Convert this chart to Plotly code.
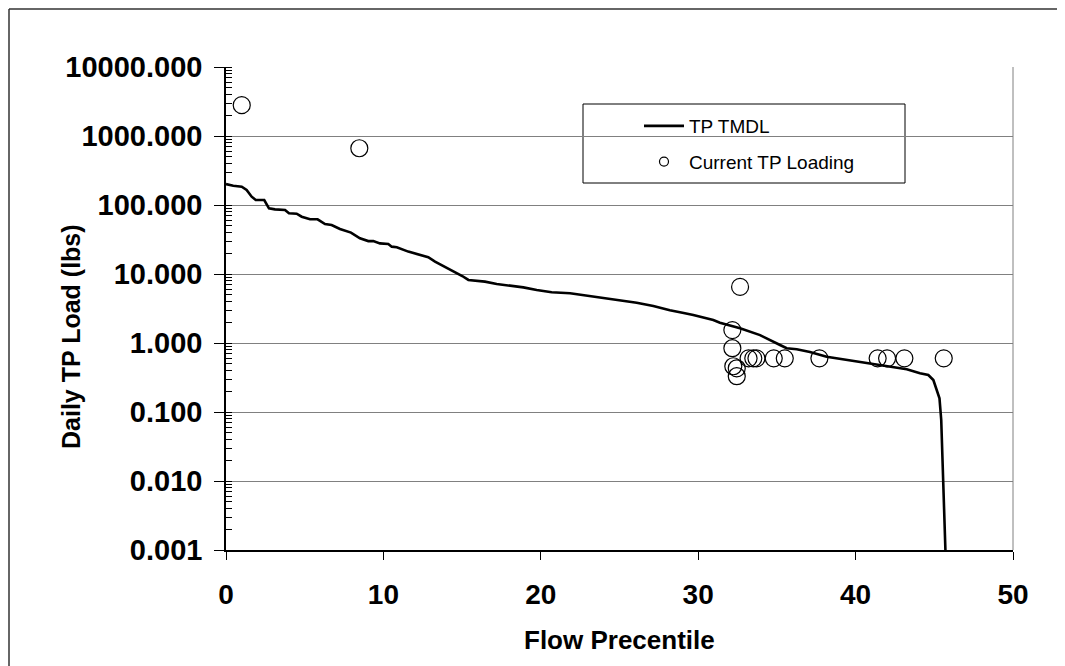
import plotly.graph_objects as go

# ---- data ----
tmdl_x = [0.0, 0.46, 1.0, 1.31, 1.63, 1.89, 2.43, 2.58, 2.73, 3.11, 3.75, 4.0, 4.49, 4.81,
          5.34, 5.82, 6.29, 6.71, 7.24, 7.94, 8.51, 9.04, 9.36, 9.78, 10.31, 10.53, 10.85,
          11.58, 12.43, 12.85, 13.28, 13.91, 14.55, 15.01, 15.4, 16.03, 16.45, 17.2, 18.25,
          18.89, 19.74, 20.69, 21.86, 22.92, 23.97, 25.03, 26.09, 27.15, 28.2, 29.0, 29.69,
          30.96, 31.38, 32.66, 33.93, 35.2, 35.62, 36.26, 37.1, 38.16, 39.43, 40.7, 41.97,
          43.25, 44.09, 44.62, 44.94, 45.33, 45.44, 45.53, 45.63, 45.72]
tmdl_y = [201, 190, 184, 165, 132, 118, 118, 100, 89.6, 86.5, 84.7, 75.8, 74.9, 67.7,
          62, 62, 53, 51.3, 44.9, 39.8, 32.9, 30, 30, 27.8, 27.2, 24.9, 24.4,
          21.1, 18.4, 17.5, 15.1, 12.8, 10.8, 9.35, 8.2, 8.0, 7.75, 7.16, 6.7,
          6.4, 5.87, 5.43, 5.25, 4.85, 4.45, 4.06, 3.84, 3.44, 2.98, 2.75, 2.55,
          2.15, 1.97, 1.63, 1.30, 0.935, 0.84, 0.81, 0.74, 0.63, 0.57, 0.52, 0.46,
          0.416, 0.365, 0.344, 0.291, 0.158, 0.0766, 0.0201, 0.00425, 0.0008]

load_x = [1.0, 8.47, 32.66, 32.17, 32.17, 32.23, 32.45, 32.45, 33.2, 33.5, 33.7,
          34.8, 35.5, 37.7, 41.4, 42.0, 43.1, 45.6]
load_y = [2800, 664, 6.5, 1.54, 0.84, 0.46, 0.43, 0.33, 0.60, 0.60, 0.60,
          0.60, 0.60, 0.60, 0.60, 0.60, 0.60, 0.60]

x_tick_vals = [0, 10, 20, 30, 40, 50]
x_tick_text = ["0", "10", "20", "30", "40", "50"]
y_tick_vals = [0.001, 0.01, 0.1, 1, 10, 100, 1000, 10000]
y_tick_text = ["0.001", "0.010", "0.100", "1.000", "10.000", "100.000", "1000.000", "10000.000"]

FONT = "Arial, 'Liberation Sans', sans-serif"

fig = go.Figure()
fig.add_trace(go.Scatter(
    x=tmdl_x, y=tmdl_y, mode="lines", name="TP TMDL",
    line=dict(color="black", width=2.6), legendgroup="a"))
fig.add_trace(go.Scatter(
    x=load_x, y=load_y, mode="markers", name="Current TP Loading", showlegend=False,
    marker=dict(symbol="circle-open", size=17, color="black", line=dict(width=1.2))))
# legend-only entry with the small legend marker
fig.add_trace(go.Scatter(
    x=[None], y=[None], mode="markers", name="Current TP Loading", legendgroup="b",
    marker=dict(symbol="circle-open", size=9, color="black", line=dict(width=1.2))))

# page offset: the figure sits 8px in from the page's top-left corner
OFF = 8
W, H = 1065 - OFF, 666 - OFF
PL, PR, PT, PB = 226, 1013, 67, 550          # plot area in page pixels
L, R, T, B = PL - OFF, W - (PR - OFF), PT - OFF, H - (PB - OFF)
pw, ph = W - L - R, H - T - B

def px_x(p):
    return (p - PL) / pw

def px_y(p):
    return (PB - p) / ph

fig.update_layout(
    width=W, height=H,
    margin=dict(l=L, r=R, t=T, b=B),
    paper_bgcolor="white", plot_bgcolor="white",
    font=dict(family=FONT, color="black"),
    showlegend=True,
    legend=dict(
        x=px_x(639), y=px_y(107), xanchor="left", yanchor="top",
        bgcolor="rgba(0,0,0,0)", borderwidth=0,
        font=dict(family=FONT, size=19, color="black"),
        itemwidth=40, traceorder="grouped", tracegroupgap=8,
    ),
    xaxis=dict(
        range=[0, 50], tickmode="array", tickvals=x_tick_vals, ticktext=x_tick_text,
        showgrid=False, zeroline=False, showline=True, linecolor="black", linewidth=1.5,
        ticks="outside", ticklen=8, tickcolor="black", tickwidth=1.2,
        tickfont=dict(family=FONT, size=28, color="black", weight="bold"),
        ticklabelstandoff=11,
    ),
    yaxis=dict(
        type="log", range=[-3, 4], tickmode="array", tickvals=y_tick_vals, ticktext=y_tick_text,
        showgrid=True, gridcolor="#808080", gridwidth=1, zeroline=False,
        showline=True, linecolor="black", linewidth=1.5,
        ticks="outside", ticklen=10, tickcolor="black", tickwidth=1.2,
        tickfont=dict(family=FONT, size=29, color="black", weight="bold"),
        ticklabelstandoff=6,
        minor=dict(ticks="inside", ticklen=6, tickcolor="black", tickwidth=1,
                   dtick="D1", showgrid=False),
    ),
    shapes=[
        # legend box
        dict(type="rect", xref="paper", yref="paper",
             x0=px_x(583), x1=px_x(905), y0=px_y(183), y1=px_y(104),
             line=dict(color="black", width=1), fillcolor="white", layer="between"),
        # right edge of plot area
        dict(type="line", xref="paper", yref="paper", x0=1, x1=1, y0=0, y1=1,
             line=dict(color="#808080", width=1)),
        # outer chart frame (top and left)
        dict(type="line", xref="paper", yref="paper",
             x0=px_x(9), x1=px_x(1065), y0=px_y(9), y1=px_y(9),
             line=dict(color="#333333", width=1.5)),
        dict(type="line", xref="paper", yref="paper",
             x0=px_x(9), x1=px_x(9), y0=px_y(9), y1=px_y(666),
             line=dict(color="#333333", width=1.5)),
    ],
    annotations=[
        dict(text="Daily TP Load (lbs)", xref="paper", yref="paper",
             x=px_x(71), y=px_y(337), xanchor="center", yanchor="middle",
             textangle=-90, showarrow=False,
             font=dict(family=FONT, size=25, color="black", weight="bold")),
        dict(text="Flow Precentile", xref="paper", yref="paper",
             x=px_x(619), y=px_y(640), xanchor="center", yanchor="middle",
             showarrow=False,
             font=dict(family=FONT, size=26, color="black", weight="bold")),
    ],
)

fig.write_html("out.html")
